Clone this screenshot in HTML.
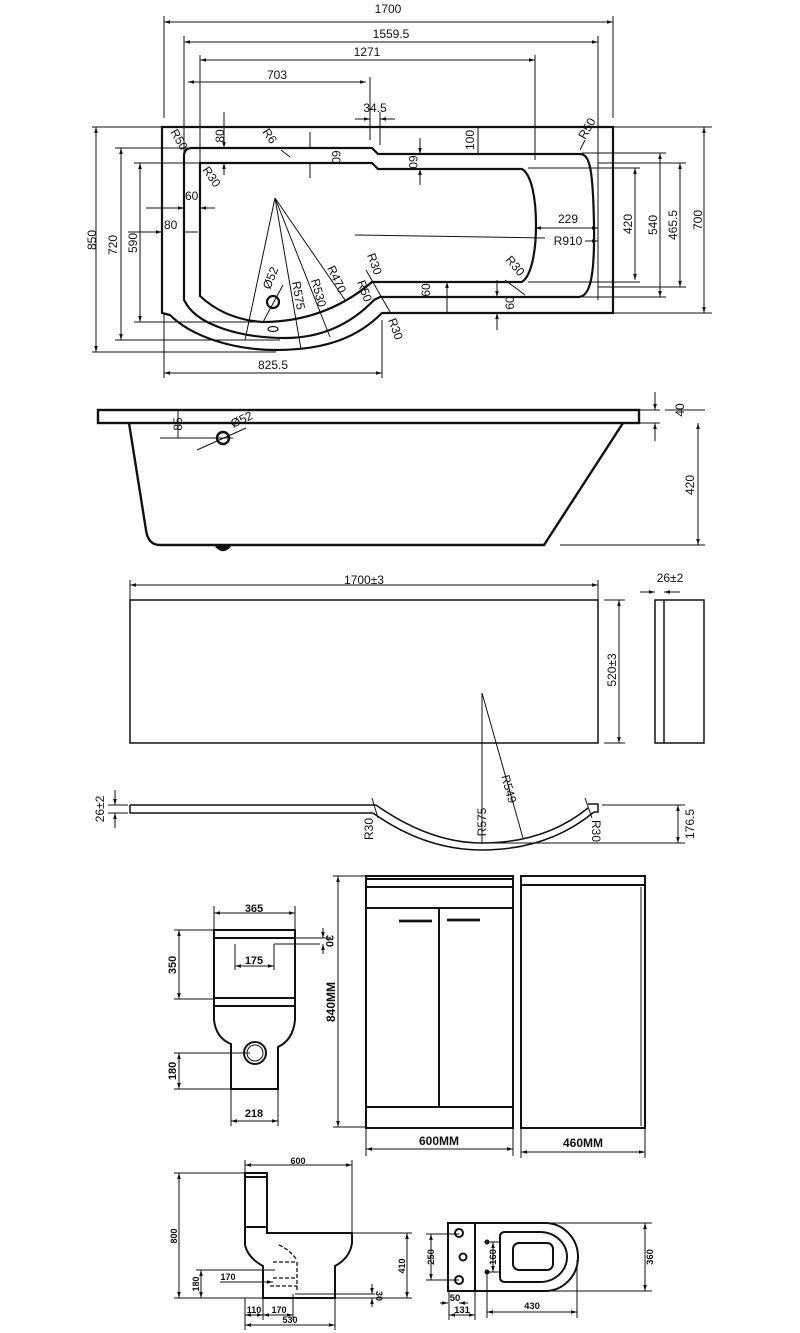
<!DOCTYPE html>
<html><head><meta charset="utf-8"><style>
html,body{margin:0;padding:0;background:#fff;}
svg{display:block;}
text{font-family:"Liberation Sans",sans-serif;fill:#111;}
</style></head><body>
<svg width="800" height="1333" viewBox="0 0 800 1333" xmlns="http://www.w3.org/2000/svg">
<defs>
<marker id="a" viewBox="0 0 10 10" refX="10" refY="5" markerWidth="6" markerHeight="6" orient="auto-start-reverse"><path d="M0,2 L10,5 L0,8 z" fill="#111"/></marker>
</defs>
<g stroke="#111" fill="none" stroke-width="1">
<line x1="164" y1="22" x2="613" y2="22" marker-start="url(#a)" marker-end="url(#a)"/>
<line x1="164" y1="16" x2="164" y2="118"/><line x1="613" y1="16" x2="613" y2="118"/>
<line x1="184" y1="42" x2="598" y2="42" marker-start="url(#a)" marker-end="url(#a)"/>
<line x1="184" y1="36" x2="184" y2="300"/><line x1="598" y1="36" x2="598" y2="300"/>
<line x1="200" y1="60" x2="535" y2="60" marker-start="url(#a)" marker-end="url(#a)"/>
<line x1="200" y1="55" x2="200" y2="165"/><line x1="535" y1="55" x2="535" y2="160"/>
<line x1="188" y1="82" x2="366" y2="82" marker-start="url(#a)" marker-end="url(#a)"/>
<line x1="370" y1="77" x2="370" y2="140"/><line x1="380" y1="112" x2="380" y2="145"/>
<line x1="355" y1="119" x2="370" y2="119" marker-end="url(#a)"/><line x1="395" y1="119" x2="380" y2="119" marker-end="url(#a)"/>
<line x1="96" y1="127" x2="96" y2="352" marker-start="url(#a)" marker-end="url(#a)"/>
<line x1="92" y1="127" x2="162" y2="127"/><line x1="92" y1="352" x2="276" y2="352"/>
<line x1="121" y1="148" x2="121" y2="340" marker-start="url(#a)" marker-end="url(#a)"/>
<line x1="115" y1="148" x2="188" y2="148"/><line x1="115" y1="340" x2="280" y2="340"/>
<line x1="140" y1="163" x2="140" y2="322" marker-start="url(#a)" marker-end="url(#a)"/>
<line x1="134" y1="163" x2="200" y2="163"/><line x1="134" y1="322" x2="260" y2="322"/>
<line x1="635" y1="168" x2="635" y2="280" marker-start="url(#a)" marker-end="url(#a)"/>
<line x1="528" y1="168" x2="640" y2="168"/><line x1="528" y1="282" x2="640" y2="282"/>
<line x1="660" y1="153" x2="660" y2="297" marker-start="url(#a)" marker-end="url(#a)"/>
<line x1="582" y1="153" x2="666" y2="153"/><line x1="582" y1="297" x2="666" y2="297"/>
<line x1="680" y1="163" x2="680" y2="287" marker-start="url(#a)" marker-end="url(#a)"/>
<line x1="598" y1="163" x2="686" y2="163"/><line x1="598" y1="287" x2="686" y2="287"/>
<line x1="704" y1="127" x2="704" y2="313" marker-start="url(#a)" marker-end="url(#a)"/>
<line x1="613" y1="127" x2="712" y2="127"/><line x1="613" y1="313" x2="712" y2="313"/>
<line x1="164" y1="373" x2="382" y2="373" marker-start="url(#a)" marker-end="url(#a)"/>
<line x1="164" y1="313" x2="164" y2="378"/><line x1="382" y1="320" x2="382" y2="378"/>
<line x1="224" y1="112" x2="224" y2="148" marker-end="url(#a)"/><line x1="224" y1="175" x2="224" y2="163" marker-end="url(#a)"/>
<line x1="310" y1="132" x2="310" y2="148"/><line x1="310" y1="178" x2="310" y2="163"/>
<line x1="420" y1="138" x2="420" y2="154" marker-end="url(#a)"/><line x1="420" y1="185" x2="420" y2="169" marker-end="url(#a)"/>
<line x1="478" y1="128" x2="478" y2="154"/>
<line x1="146" y1="208" x2="184" y2="208" marker-end="url(#a)"/><line x1="215" y1="208" x2="200" y2="208" marker-end="url(#a)"/>
<line x1="128" y1="232" x2="162" y2="232" marker-end="url(#a)"/><line x1="198" y1="232" x2="184" y2="232"/>
<line x1="535" y1="228" x2="598" y2="228" marker-start="url(#a)" marker-end="url(#a)"/>
<line x1="355" y1="235" x2="545" y2="238"/><line x1="585" y1="241" x2="598" y2="241" marker-end="url(#a)"/>
<line x1="447" y1="282" x2="447" y2="312" marker-start="url(#a)"/>
<line x1="497" y1="280" x2="497" y2="297" marker-end="url(#a)"/><line x1="497" y1="330" x2="497" y2="313" marker-end="url(#a)"/>
<line x1="275" y1="198" x2="245" y2="340"/><line x1="275" y1="198" x2="301" y2="349"/>
<line x1="275" y1="198" x2="330" y2="337"/><line x1="275" y1="198" x2="345" y2="300"/>
<line x1="263" y1="322" x2="283" y2="285"/>
<line x1="281" y1="150" x2="290" y2="157"/><line x1="580" y1="150" x2="585" y2="140"/>
<line x1="505" y1="280" x2="525" y2="295"/>
<line x1="366" y1="270" x2="390" y2="312"/>
</g>
<g stroke="#111" fill="none" stroke-width="2.2">
<path d="M162,127 H613 V313 H382 C360,335 330,350 276,350 C230,350 190,335 170,315 L162,313 Z"/>
<path d="M192,148 H372 L378,154 H580 C590,154 593,170 594,225 C595,285 588,297 578,297 H380 L374,300 C350,325 320,338 285,338 C240,338 200,325 187,305 L184,300 V156 Q184,148 192,148 Z"/>
<path d="M200,163 H372 L378,169 H522 C532,175 536,200 536,225 C536,250 532,275 522,282 H372 C345,305 310,322 262,322 C235,320 215,310 200,296 Z"/>
<circle cx="273" cy="302" r="6"/>
<ellipse cx="273" cy="329" rx="5" ry="2.5" stroke-width="1.2"/>
</g>
<g font-size="12">
<text x="388" y="13" text-anchor="middle">1700</text>
<text x="391" y="38" text-anchor="middle">1559.5</text>
<text x="367" y="56" text-anchor="middle">1271</text>
<text x="277" y="79" text-anchor="middle">703</text>
<text x="375" y="112" text-anchor="middle">34.5</text>
<text transform="translate(224,136) rotate(-90)" text-anchor="middle">80</text>
<text transform="translate(332,157) rotate(90)" text-anchor="middle">60</text>
<text transform="translate(409,162) rotate(90)" text-anchor="middle">60</text>
<text transform="translate(474,140) rotate(-90)" text-anchor="middle">100</text>
<text transform="translate(170,132) rotate(60)">R50</text>
<text transform="translate(262,132) rotate(55)">R6</text>
<text transform="translate(202,170) rotate(55)">R30</text>
<text transform="translate(585,140) rotate(-60)">R50</text>
<text x="185" y="200">60</text>
<text x="164" y="229">80</text>
<text x="568" y="223" text-anchor="middle">229</text>
<text x="568" y="245" text-anchor="middle">R910</text>
<text transform="translate(505,260) rotate(50)">R30</text>
<text transform="translate(367,255) rotate(70)">R30</text>
<text transform="translate(357,282) rotate(70)">R50</text>
<text transform="translate(388,320) rotate(70)">R30</text>
<text transform="translate(327,268) rotate(65)">R470</text>
<text transform="translate(311,280) rotate(75)">R530</text>
<text transform="translate(292,282) rotate(80)">R575</text>
<text transform="translate(270,290) rotate(-68)">Ø52</text>
<text transform="translate(430,290) rotate(-90)" text-anchor="middle">60</text>
<text transform="translate(514,303) rotate(-90)" text-anchor="middle">60</text>
<text transform="translate(96,240) rotate(-90)" text-anchor="middle">850</text>
<text transform="translate(117,245) rotate(-90)" text-anchor="middle">720</text>
<text transform="translate(137,243) rotate(-90)" text-anchor="middle">590</text>
<text transform="translate(632,224) rotate(-90)" text-anchor="middle">420</text>
<text transform="translate(657,225) rotate(-90)" text-anchor="middle">540</text>
<text transform="translate(677,225) rotate(-90)" text-anchor="middle">465.5</text>
<text transform="translate(702,220) rotate(-90)" text-anchor="middle">700</text>
<text x="273" y="369" text-anchor="middle">825.5</text>
</g>

<g stroke="#111" fill="none" stroke-width="2.4">
<rect x="98" y="410" width="541" height="13"/>
<path d="M129,423 L146,530 Q148,545 160,545 H544 L623,423"/>
<circle cx="223" cy="438" r="6"/>
<path d="M216,546 Q223,554 230,546" fill="#111"/>
</g>
<g stroke="#111" fill="none" stroke-width="1">
<line x1="160" y1="438" x2="233" y2="438"/><line x1="178" y1="410" x2="178" y2="438"/>
<line x1="197" y1="450" x2="246" y2="428"/>
<line x1="655" y1="392" x2="655" y2="410" marker-end="url(#a)"/><line x1="655" y1="441" x2="655" y2="423" marker-end="url(#a)"/>
<line x1="640" y1="410" x2="660" y2="410"/><line x1="640" y1="423" x2="660" y2="423"/>
<line x1="698" y1="423" x2="698" y2="545" marker-start="url(#a)" marker-end="url(#a)"/>
<line x1="560" y1="545" x2="705" y2="545"/><line x1="665" y1="410" x2="705" y2="410"/>
</g>
<g font-size="12">
<text transform="translate(182,424) rotate(-90)" text-anchor="middle">85</text>
<text transform="translate(233,428) rotate(-25)">Ø52</text>
<text transform="translate(684,410) rotate(-90)" text-anchor="middle">40</text>
<text transform="translate(694,485) rotate(-90)" text-anchor="middle">420</text>
</g>

<g stroke="#111" fill="none" stroke-width="1.5">
<rect x="130" y="600" width="468" height="143"/>
<rect x="655" y="600" width="49" height="143"/><line x1="664" y1="600" x2="664" y2="743"/>
<path d="M130,805 H376 M130,813 H373 M130,805 V813"/>
<path d="M376,805 Q430,843 482,843 Q545,843 588,808"/>
<path d="M373,813 Q425,850 482,850 Q548,850 594,812"/>
<path d="M588,804 H598 V812 H594"/>
</g>
<g stroke="#111" fill="none" stroke-width="1">
<line x1="130" y1="585" x2="598" y2="585" marker-start="url(#a)" marker-end="url(#a)"/>
<line x1="130" y1="580" x2="130" y2="600"/><line x1="598" y1="580" x2="598" y2="600"/>
<line x1="619" y1="600" x2="619" y2="743" marker-start="url(#a)" marker-end="url(#a)"/>
<line x1="604" y1="600" x2="625" y2="600"/><line x1="604" y1="743" x2="625" y2="743"/>
<line x1="640" y1="592" x2="655" y2="592" marker-end="url(#a)"/><line x1="680" y1="592" x2="664" y2="592" marker-end="url(#a)"/>
<line x1="115" y1="790" x2="115" y2="805" marker-end="url(#a)"/><line x1="115" y1="828" x2="115" y2="813" marker-end="url(#a)"/>
<line x1="108" y1="805" x2="128" y2="805"/><line x1="108" y1="813" x2="128" y2="813"/>
<line x1="482" y1="693" x2="482" y2="843"/><line x1="482" y1="693" x2="523" y2="838"/>
<line x1="678" y1="805" x2="678" y2="843" marker-start="url(#a)" marker-end="url(#a)"/>
<line x1="602" y1="805" x2="685" y2="805"/><line x1="482" y1="843" x2="685" y2="843"/>
<line x1="372" y1="798" x2="378" y2="818"/><line x1="585" y1="798" x2="592" y2="818"/>
</g>
<g font-size="12">
<text x="364" y="584" text-anchor="middle">1700±3</text>
<text x="670" y="582" text-anchor="middle">26±2</text>
<text transform="translate(616,670) rotate(-90)" text-anchor="middle">520±3</text>
<text transform="translate(104,809) rotate(-90)" text-anchor="middle">26±2</text>
<text transform="translate(373,840) rotate(-90)">R30</text>
<text transform="translate(592,820) rotate(90)">R30</text>
<text transform="translate(486,822) rotate(-90)" text-anchor="middle">R575</text>
<text transform="translate(505,790) rotate(75)" text-anchor="middle">R549</text>
<text transform="translate(694,824) rotate(-90)" text-anchor="middle">176.5</text>
</g>

<g stroke="#111" fill="none" stroke-width="2">
<rect x="214" y="930" width="81" height="8"/>
<path d="M214,938 V998 M295,938 V998"/>
<rect x="214" y="998" width="81" height="8"/>
<path d="M214,1006 V1020 Q216,1038 231,1044 V1089 H278 V1047 Q293,1040 295,1020 V1006"/>
<circle cx="255" cy="1053" r="11"/><circle cx="255" cy="1053" r="8" stroke-width="1"/>
</g>
<g stroke="#111" fill="none" stroke-width="1">
<line x1="214" y1="913" x2="295" y2="913" marker-start="url(#a)" marker-end="url(#a)"/>
<line x1="214" y1="906" x2="214" y2="930"/><line x1="295" y1="906" x2="295" y2="930"/>
<line x1="179" y1="930" x2="179" y2="999" marker-start="url(#a)" marker-end="url(#a)"/>
<line x1="174" y1="930" x2="214" y2="930"/><line x1="174" y1="999" x2="214" y2="999"/>
<line x1="235" y1="966" x2="274" y2="966" marker-start="url(#a)" marker-end="url(#a)"/>
<line x1="235" y1="944" x2="235" y2="970"/><line x1="274" y1="944" x2="274" y2="970"/>
<line x1="274" y1="944" x2="320" y2="944"/><line x1="295" y1="938" x2="330" y2="938"/>
<line x1="323" y1="928" x2="323" y2="938" marker-end="url(#a)"/><line x1="323" y1="954" x2="323" y2="944" marker-end="url(#a)"/>
<line x1="179" y1="1053" x2="179" y2="1089" marker-start="url(#a)" marker-end="url(#a)"/>
<line x1="174" y1="1053" x2="250" y2="1053"/><line x1="174" y1="1089" x2="231" y2="1089"/>
<line x1="231" y1="1121" x2="278" y2="1121" marker-start="url(#a)" marker-end="url(#a)"/>
<line x1="231" y1="1089" x2="231" y2="1126"/><line x1="278" y1="1089" x2="278" y2="1126"/>
</g>
<g font-size="11" font-weight="bold">
<text x="254" y="912" text-anchor="middle">365</text>
<text transform="translate(176,965) rotate(-90)" text-anchor="middle">350</text>
<text x="254" y="964" text-anchor="middle">175</text>
<text transform="translate(326,941) rotate(90)" text-anchor="middle">30</text>
<text transform="translate(176,1071) rotate(-90)" text-anchor="middle">180</text>
<text x="254" y="1117" text-anchor="middle">218</text>
</g>

<g stroke="#111" fill="none" stroke-width="2">
<rect x="366" y="876" width="147" height="252"/>
<line x1="366" y1="879" x2="513" y2="879"/><line x1="366" y1="887" x2="513" y2="887"/>
<line x1="366" y1="908" x2="513" y2="908"/>
<line x1="439" y1="908" x2="439" y2="1107"/><line x1="366" y1="1107" x2="513" y2="1107"/>
<line x1="399" y1="921" x2="432" y2="921" stroke-width="2.8"/><line x1="447" y1="920" x2="480" y2="920" stroke-width="2.8"/>
<rect x="521" y="876" width="124" height="252"/>
<line x1="521" y1="885" x2="645" y2="885"/>
<line x1="641" y1="887" x2="641" y2="1126" stroke-width="1"/>
</g>
<g stroke="#111" fill="none" stroke-width="1">
<line x1="338" y1="876" x2="338" y2="1127" marker-start="url(#a)" marker-end="url(#a)"/>
<line x1="333" y1="876" x2="366" y2="876"/><line x1="333" y1="1127" x2="366" y2="1127"/>
<line x1="366" y1="1149" x2="513" y2="1149" marker-start="url(#a)" marker-end="url(#a)"/>
<line x1="366" y1="1128" x2="366" y2="1156"/><line x1="513" y1="1128" x2="513" y2="1156"/>
<line x1="521" y1="1152" x2="645" y2="1152" marker-start="url(#a)" marker-end="url(#a)"/>
<line x1="521" y1="1128" x2="521" y2="1158"/><line x1="645" y1="1128" x2="645" y2="1158"/>
</g>
<g font-size="12" font-weight="bold">
<text transform="translate(335,1002) rotate(-90)" text-anchor="middle">840MM</text>
<text x="439" y="1145" text-anchor="middle">600MM</text>
<text x="583" y="1147" text-anchor="middle">460MM</text>
</g>

<g stroke="#111" fill="none" stroke-width="2">
<path d="M245,1173 H267 V1233 H352 V1243 Q350,1258 335,1266 V1298 H263 V1266 Q248,1258 245,1245 Z"/>
<line x1="245" y1="1177" x2="267" y2="1177"/><line x1="245" y1="1227" x2="267" y2="1227"/>
</g>
<g stroke="#111" fill="none" stroke-width="1.3" stroke-dasharray="4,2">
<path d="M273,1262 H297 V1292 M273,1278 H297 M270,1286 H297 M279,1245 Q290,1250 297,1260"/>
</g>
<g stroke="#111" fill="none" stroke-width="1">
<line x1="245" y1="1165" x2="352" y2="1165" marker-start="url(#a)" marker-end="url(#a)"/>
<line x1="245" y1="1160" x2="245" y2="1173"/><line x1="352" y1="1160" x2="352" y2="1233"/>
<line x1="179" y1="1173" x2="179" y2="1298" marker-start="url(#a)" marker-end="url(#a)"/>
<line x1="174" y1="1173" x2="245" y2="1173"/><line x1="174" y1="1298" x2="263" y2="1298"/>
<line x1="407" y1="1233" x2="407" y2="1298" marker-start="url(#a)" marker-end="url(#a)"/>
<line x1="352" y1="1233" x2="412" y2="1233"/><line x1="335" y1="1298" x2="412" y2="1298"/>
<line x1="201" y1="1270" x2="201" y2="1298" marker-start="url(#a)" marker-end="url(#a)"/>
<line x1="196" y1="1270" x2="275" y2="1270"/>
<line x1="220" y1="1282" x2="273" y2="1282" marker-end="url(#a)"/>
<line x1="295" y1="1294" x2="375" y2="1294"/>
<line x1="372" y1="1284" x2="372" y2="1294" marker-end="url(#a)"/><line x1="372" y1="1307" x2="372" y2="1298" marker-end="url(#a)"/>
<line x1="245" y1="1315" x2="263" y2="1315" marker-start="url(#a)" marker-end="url(#a)"/>
<line x1="263" y1="1315" x2="293" y2="1315" marker-start="url(#a)" marker-end="url(#a)"/>
<line x1="245" y1="1325" x2="335" y2="1325" marker-start="url(#a)" marker-end="url(#a)"/>
<line x1="245" y1="1298" x2="245" y2="1330"/><line x1="263" y1="1298" x2="263" y2="1320"/>
<line x1="293" y1="1294" x2="293" y2="1320"/><line x1="335" y1="1298" x2="335" y2="1330"/>
</g>
<g font-size="9" font-weight="bold">
<text x="298" y="1164" text-anchor="middle">600</text>
<text transform="translate(177,1236) rotate(-90)" text-anchor="middle">800</text>
<text transform="translate(405,1266) rotate(-90)" text-anchor="middle">410</text>
<text transform="translate(199,1284) rotate(-90)" text-anchor="middle">180</text>
<text x="228" y="1280" text-anchor="middle">170</text>
<text transform="translate(376,1296) rotate(90)" text-anchor="middle">30</text>
<text x="254" y="1313" text-anchor="middle">110</text>
<text x="279" y="1313" text-anchor="middle">170</text>
<text x="290" y="1323" text-anchor="middle">530</text>
</g>

<g stroke="#111" fill="none" stroke-width="2">
<path d="M448,1223 H545 A33,34 0 0 1 545,1291 H448 Z"/>
<line x1="475" y1="1223" x2="475" y2="1291"/>
<path d="M505,1232 H540 A27,25 0 0 1 540,1282 H505 Q500,1282 500,1277 V1237 Q500,1232 505,1232 Z"/>
<rect x="513" y="1243" width="40" height="27" rx="6"/>
<circle cx="459" cy="1233" r="4"/><circle cx="463" cy="1257" r="3.5"/><circle cx="459" cy="1280" r="4"/>
<circle cx="487" cy="1242" r="1.5"/><circle cx="487" cy="1272" r="1.5"/>
</g>
<g stroke="#111" fill="none" stroke-width="1">
<line x1="431" y1="1234" x2="431" y2="1280" marker-start="url(#a)" marker-end="url(#a)"/>
<line x1="426" y1="1234" x2="459" y2="1234"/><line x1="426" y1="1280" x2="459" y2="1280"/>
<line x1="493" y1="1242" x2="493" y2="1272" marker-start="url(#a)" marker-end="url(#a)"/>
<line x1="487" y1="1242" x2="500" y2="1242"/><line x1="487" y1="1272" x2="500" y2="1272"/>
<line x1="645" y1="1223" x2="645" y2="1291" marker-start="url(#a)" marker-end="url(#a)"/>
<line x1="545" y1="1223" x2="652" y2="1223"/><line x1="545" y1="1291" x2="652" y2="1291"/>
<line x1="440" y1="1303" x2="448" y2="1303" marker-end="url(#a)"/><line x1="468" y1="1303" x2="459" y2="1303" marker-end="url(#a)"/>
<line x1="449" y1="1315" x2="475" y2="1315" marker-start="url(#a)" marker-end="url(#a)"/>
<line x1="449" y1="1291" x2="449" y2="1320"/><line x1="475" y1="1291" x2="475" y2="1320"/>
<line x1="487" y1="1312" x2="577" y2="1312" marker-start="url(#a)" marker-end="url(#a)"/>
<line x1="487" y1="1272" x2="487" y2="1318"/><line x1="577" y1="1260" x2="577" y2="1318"/>
</g>
<g font-size="9.5" font-weight="bold">
<text transform="translate(434,1257) rotate(-90)" text-anchor="middle">250</text>
<text transform="translate(496,1257) rotate(-90)" text-anchor="middle">160</text>
<text transform="translate(653,1257) rotate(-90)" text-anchor="middle">360</text>
<text x="455" y="1301" text-anchor="middle">50</text>
<text x="462" y="1313" text-anchor="middle">131</text>
<text x="532" y="1309" text-anchor="middle">430</text>
</g>
</svg>
</body></html>
